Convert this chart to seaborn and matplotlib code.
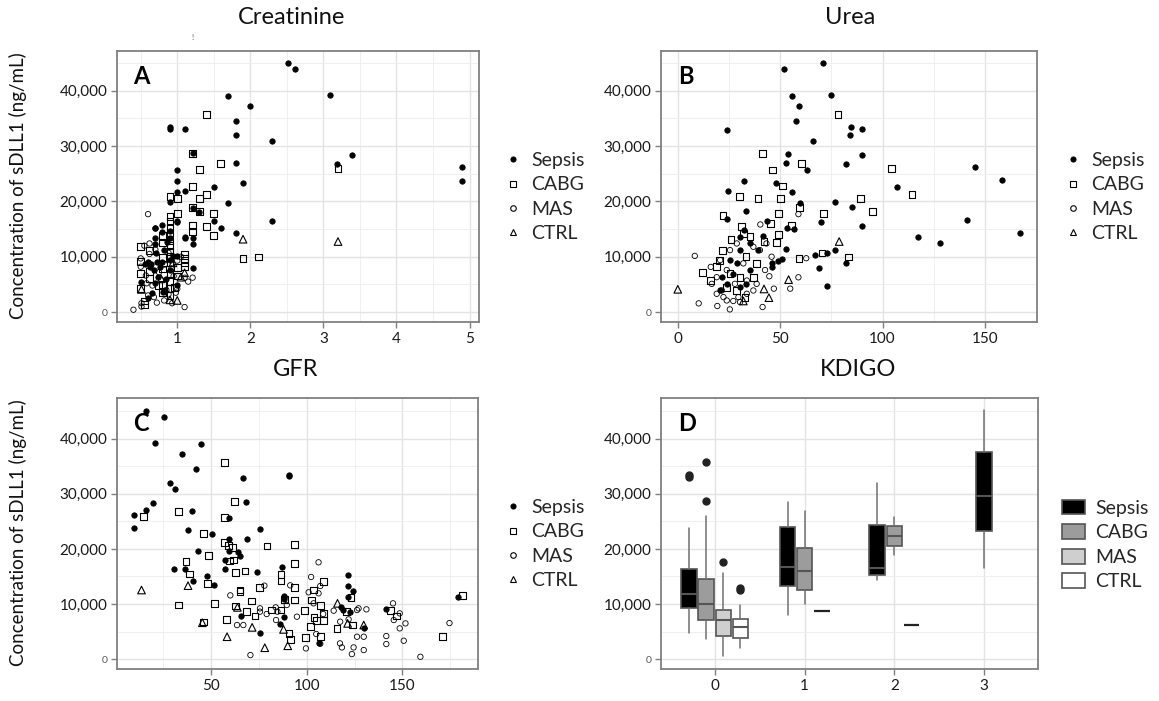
import numpy as np
import matplotlib
matplotlib.use("Agg")
import matplotlib.pyplot as plt
from matplotlib.lines import Line2D
from matplotlib.patches import Patch
from matplotlib.ticker import FixedLocator
import seaborn as sns

# ---------------- DATA ----------------
groups = ["Sepsis", "CABG", "MAS", "CTRL"]
y_ticks = [0, 10000, 20000, 30000, 40000]
y_tick_labels = ["0", "10,000", "20,000", "30,000", "40,000"]

# Panel A: Creatinine (x) vs sDLL1 (y)
creat_sepsis_x = [2.51, 2.61, 1.70, 2.00, 3.09, 1.80, 1.80, 2.29, 0.90, 0.90, 1.10, 1.21, 3.39, 3.19, 1.80,
                  1.00, 1.00, 1.90, 1.00, 1.10, 1.50, 0.90, 1.70, 1.21, 1.30, 1.00, 1.50, 2.29, 0.70, 1.60,
                  1.80, 1.10, 4.90, 4.90,
                  0.70, 0.79, 0.79, 0.70, 0.90, 0.90, 1.00, 0.70, 0.71, 0.60, 0.63, 0.68, 0.74, 0.70, 0.66,
                  0.50, 0.79, 0.90, 0.90, 1.00, 1.21, 1.21, 1.21, 1.10, 0.64, 0.72, 0.76, 0.82, 0.85, 0.94,
                  0.60, 0.80, 0.86, 0.99, 0.56]
creat_sepsis_y = [45015, 43930, 39090, 37220, 39270, 34620, 31960, 30880, 33530, 33110, 33110, 28700, 28460, 26770, 26950,
                  25680, 23750, 23380, 21750, 21930, 22660, 19880, 19640, 18850, 18130, 16310, 16500, 16500, 15230, 15230,
                  14320, 13530, 26160, 23750,
                  15240, 15720, 14520, 13320, 14620, 13420, 16450, 12220, 10600, 9100, 8200, 7600, 6400, 5200, 3400,
                  5500, 9100, 9400, 7600, 4900, 8000, 13420, 12220, 13420, 8600, 9000, 8100, 11200, 6000, 10200,
                  2600, 3700, 12600, 10100, 8700]
creat_cabg_x = [1.40, 1.59, 1.30, 1.21, 1.40, 1.30, 0.90, 1.00, 1.00, 1.50, 1.40, 1.50, 1.21, 1.90, 2.11, 3.20,
                1.21, 1.21, 1.30,
                0.90, 0.90, 0.90, 0.90, 0.90, 0.90, 0.90, 0.90, 0.90, 0.90, 0.90, 0.90, 0.90, 0.80, 0.80, 0.80,
                0.80, 0.80, 0.80, 0.50, 0.50, 0.50, 0.50, 0.62, 0.62, 0.62, 1.10, 1.10, 1.10, 1.10, 1.00, 1.00,
                0.74, 0.55, 0.55, 0.96, 1.21]
creat_cabg_y = [35710, 26890, 25740, 22720, 21210, 20480, 20900, 20480, 17890, 17890, 15410, 13780, 15710, 9670, 9970, 25920,
                28700, 18850, 18130,
                17300, 16300, 15300, 14300, 13000, 12000, 11000, 10000, 9000, 7000, 5500, 4300, 3000, 13800, 12500, 9800,
                7800, 5000, 3600, 11800, 9100, 7000, 4300, 11200, 7300, 6000, 10500, 9700, 9000, 8300, 6500, 8000,
                4800, 2000, 1300, 4500, 14600]
creat_mas_x = [0.60, 0.40, 0.51, 0.51, 1.10, 1.21, 0.50, 0.50, 0.55, 0.62, 0.57, 0.60, 0.68, 0.72, 0.82, 0.88,
               0.95, 1.00, 1.05, 1.10, 1.00, 0.85, 0.78, 0.66, 0.92, 0.70, 0.62, 0.88, 0.93, 1.15, 0.75, 0.58,
               0.98, 0.83]
creat_mas_y = [17700, 420, 1000, 1600, 900, 6220, 9700, 8200, 12000, 10500, 6600, 3000, 2700, 1700, 2100, 3200,
               6500, 9300, 10000, 6200, 4200, 4000, 5800, 4800, 7900, 11300, 12400, 10700, 1600, 5500, 7200, 5200,
               3500, 8600]
creat_ctrl_x = [1.90, 3.20, 1.00, 0.51, 0.90, 1.05, 0.78, 0.94, 1.10]
creat_ctrl_y = [13170, 12750, 2100, 4100, 2200, 6300, 6000, 8900, 7100]

# Panel B: Urea (x) vs sDLL1 (y)
urea_sepsis_x = [51.8, 70.9, 74.9, 55.9, 59.0, 57.9, 24.2, 84.8, 90.0, 83.9, 65.8, 90.0, 54.0, 52.8, 81.9, 62.9,
                 32.3, 47.8, 24.4, 55.9, 59.5, 77.0, 33.3, 85.0, 24.2, 69.9, 90.0, 106.8, 145.1, 158.1, 141.1,
                 117.2, 128.2, 167.2, 77.0, 72.8, 66.8, 81.9, 68.9, 73.0, 52.8, 51.1, 48.8, 46.2, 46.0, 53.1,
                 56.7, 43.4, 41.4, 30.4, 32.3, 35.3, 28.8, 25.5, 30.4, 21.5, 24.2, 35.3, 33.3, 27.1, 39.3, 30.4,
                 20.7]
urea_sepsis_y = [43930, 45010, 39270, 39090, 37220, 34620, 32930, 33470, 33110, 31960, 30880, 28460, 28640, 26950, 26770, 25680,
                 23750, 23380, 21930, 21690, 19700, 19880, 18190, 18910, 16740, 16310, 15590, 22660, 26220, 23810, 16560,
                 13530, 12450, 14260, 11300, 10690, 10390, 8940, 7980, 4770, 11480, 9610, 9180, 8160, 8940, 15230,
                 14980, 16500, 13720, 13600, 14900, 12400, 8800, 9400, 11200, 6300, 5100, 7600, 5100, 6900, 11200, 4500,
                 3900]
urea_cabg_x = [78.2, 41.3, 46.2, 60.3, 104.5, 30.1, 39.2, 50.2, 51.2, 114.4, 89.2, 95.2, 71.2, 59.3, 49.1, 22.1,
               31.0, 45.3, 55.6, 49.3, 48.1, 42.1, 83.2, 70.4, 59.2, 12.0, 20.2, 21.9, 26.0, 32.0, 35.3, 33.3,
               30.4, 36.9, 23.9, 25.5, 15.8, 28.8, 38.5, 32.8, 19.0]
urea_cabg_y = [35710, 28700, 25680, 26890, 25920, 20840, 20540, 20480, 22780, 21270, 20480, 18130, 17880, 18910, 17880, 17400,
               15410, 16010, 15650, 14080, 12570, 12750, 9970, 10690, 9670, 7190, 9370, 11180, 13110, 14200, 13600, 10000,
               6300, 6300, 4500, 6900, 5700, 3900, 8800, 2700, 8200]
urea_mas_x = [8.3, 10.2, 19.3, 25.4, 41.4, 46.9, 54.9, 58.9, 62.7, 40.3, 58.9, 44.7, 16.1, 16.6, 19.0, 22.3,
              23.9, 27.1, 29.6, 30.4, 33.7, 36.9, 38.5, 40.1, 36.9, 28.8, 25.5, 32.0, 23.9, 19.0, 43.3, 45.8,
              20.7, 33.7, 27.9, 42.6, 21.5]
urea_mas_y = [10150, 1570, 1090, 480, 910, 4230, 4230, 6280, 9730, 15830, 17700, 6470, 8160, 5100, 3300, 2700,
              2100, 2000, 2700, 1800, 3300, 3900, 5100, 11200, 11800, 12400, 11200, 8800, 7600, 6300, 12400, 10000,
              9400, 5700, 5100, 7600, 3900]
urea_ctrl_x = [0.0, 78.8, 54.1, 42.1, 44.5, 32.0]
urea_ctrl_y = [4110, 12750, 5860, 4170, 2600, 2000]

# Panel C: GFR (x) vs sDLL1 (y)
gfr_sepsis_x = [15.8, 25.4, 21.0, 44.8, 34.6, 42.1, 66.9, 91.0, 91.0, 28.5, 31.0, 68.3, 19.5, 15.8, 39.9, 9.7,
                9.7, 37.8, 59.4, 50.3, 75.8, 59.3, 69.0, 43.2, 59.3, 64.0, 64.9, 30.5, 36.6, 57.3, 57.3, 73.9,
                87.3, 40.4, 48.1, 51.4, 121.4, 121.4, 124.4, 121.4, 178.8, 88.2, 88.0, 65.7, 75.8, 141.3, 118.0,
                118.9, 122.4, 88.2, 88.4, 86.0, 106.4, 129.8]
gfr_sepsis_y = [45090, 43940, 39270, 39090, 37150, 34600, 32910, 33390, 33150, 32000, 30850, 28600, 28420, 27030, 26910, 26180,
                23760, 23390, 25570, 22660, 23700, 21760, 21880, 19630, 19700, 19510, 18730, 16420, 16420, 18060, 16300, 15760,
                16670, 14240, 15090, 13450, 15210, 13270, 12420, 11210, 11210, 11210, 7700, 7820, 4670, 9150, 9510,
                8910, 8480, 11500, 10970, 6300, 2970, 5580]
gfr_cabg_x = [57.0, 62.4, 33.2, 14.9, 57.0, 46.0, 79.3, 93.6, 57.0, 59.1, 61.3, 36.9, 48.6, 93.6, 61.7, 59.6,
              62.6, 67.8, 38.7, 48.3, 86.6, 86.6, 108.8, 103.6, 93.6, 75.3, 65.2, 65.2, 32.9, 51.7, 71.1, 73.0,
              68.7, 81.8, 86.6, 88.4, 93.6, 98.9, 102.4, 101.9, 107.1, 108.6, 105.1, 108.6, 107.1, 115.8, 121.0,
              123.1, 123.9, 99.2, 91.7, 90.8, 58.2, 46.3, 170.8, 181.2, 146.9, 143.7, 62.6, 103.8]
gfr_cabg_y = [35690, 28660, 26790, 25880, 25760, 22730, 20540, 20850, 21150, 20660, 20300, 17760, 18790, 17330, 18000, 17820,
              15760, 16000, 15450, 13760, 15390, 14180, 14120, 12540, 12970, 12970, 12540, 12240, 9820, 10120, 10540, 7820,
              8610, 8910, 8910, 10850, 10730, 8790, 10730, 5880, 9700, 8300, 6970, 6970, 4060, 5580, 8610,
              11150, 6180, 3880, 3580, 4670, 7150, 6730, 4060, 11510, 7820, 8790, 9640, 7580]
gfr_mas_x = [70.6, 106.2, 102.3, 91.4, 107.1, 106.2, 101.0, 60.1, 77.9, 75.6, 79.1, 75.6, 63.6, 66.9, 84.7, 83.8,
             89.6, 99.6, 107.1, 105.0, 108.6, 117.4, 118.4, 123.6, 124.5, 129.8, 127.1, 131.2, 129.8, 126.3, 117.5,
             121.9, 141.6, 141.6, 145.1, 148.6, 148.6, 150.7, 151.6, 145.5, 159.4, 174.6, 103.6, 114.1, 126.3,
             84.0, 94.9]
gfr_mas_y = [730, 17570, 14910, 13390, 13270, 11940, 12120, 11570, 13330, 9210, 8180, 8610, 6180, 6180, 8610, 9390,
             9820, 1940, 2790, 4550, 8180, 2850, 2120, 910, 2120, 1640, 9210, 9030, 4060, 4060, 6790,
             7210, 4180, 2730, 10120, 8300, 5580, 3330, 6480, 7090, 420, 6540, 10120, 8790, 8910,
             7090, 7700]
gfr_ctrl_x = [13.7, 38.0, 45.5, 58.4, 63.8, 71.5, 78.1, 90.1, 87.9, 116.1, 121.4, 129.8]
gfr_ctrl_y = [12540, 13330, 6600, 4060, 9390, 5760, 2060, 2420, 5390, 10120, 6480, 6180]

# Panel D: KDIGO box summaries
box_kdigo = [0, 0, 0, 0, 1, 1, 1, 2, 2, 2, 3]
box_group = ["Sepsis", "CABG", "MAS", "CTRL", "Sepsis", "CABG", "MAS", "Sepsis", "CABG", "MAS", "Sepsis"]
box_whislo = [4780, 3580, 490, 2000, 8000, 10000, 8670, 14360, 18960, 6240, 16540]
box_q1 = [9270, 7150, 4180, 3880, 13210, 12600, 8670, 15270, 20490, 6240, 23330]
box_med = [11870, 10060, 7090, 5880, 16730, 16000, 8670, 16540, 22360, 6240, 29690]
box_q3 = [16400, 14550, 8900, 7270, 23940, 20120, 8670, 24300, 24120, 6240, 37630]
box_whishi = [23800, 25900, 15690, 9870, 28600, 26960, 8670, 31940, 25820, 6240, 45140]
box_fliers = [[33100, 33500], [35750, 28780], [17580], [12900, 12500], [], [], [], [], [], [], []]
kdigo_ticks = [0, 1, 2, 3]

# ---------------- STYLE ----------------
sns.set_theme(style="whitegrid")
plt.rcParams["font.family"] = ["Lato", "DejaVu Sans"]

W, H = 1159, 701
fig = plt.figure(figsize=(W / 100, H / 100), dpi=100)
fig.patch.set_facecolor("white")


def rect(l, t, r, b):
    return [l / W, 1 - b / H, (r - l) / W, (b - t) / H]


def fx(px):
    return px / W


def fy(py):
    return 1 - py / H


axA = fig.add_axes(rect(117, 51, 479, 322))
axB = fig.add_axes(rect(661, 51, 1037, 322))
axC = fig.add_axes(rect(117, 398, 478, 669))
axD = fig.add_axes(rect(661, 398, 1038, 669))

GRID_MAJ = "#e3e3e3"
GRID_MIN = "#efefef"
SPINE = "#808080"

marker_spec = {
    "Sepsis": dict(marker="o", s=15, fc="black", ec="black", lw=0.6),
    "CABG": dict(marker="s", s=24, fc="none", ec="black", lw=0.8),
    "MAS": dict(marker="o", s=15, fc="none", ec="black", lw=0.6),
    "CTRL": dict(marker="^", s=30, fc="none", ec="black", lw=0.8),
}


def style_axes(ax, xlim, ylim, xmajor, xminor=None):
    ax.set_facecolor("white")
    ax.set_xlim(*xlim)
    ax.set_ylim(*ylim)
    ax.set_yticks(y_ticks)
    ax.set_yticklabels(y_tick_labels)
    ax.yaxis.set_minor_locator(FixedLocator([5000, 15000, 25000, 35000, 45000]))
    ax.xaxis.set_major_locator(FixedLocator(xmajor))
    if xminor is not None:
        ax.xaxis.set_minor_locator(FixedLocator(xminor))
    ax.grid(which="major", color=GRID_MAJ, linewidth=1.0)
    ax.grid(which="minor", color=GRID_MIN, linewidth=0.7)
    ax.set_axisbelow(True)
    for sp in ax.spines.values():
        sp.set_visible(True)
        sp.set_color(SPINE)
        sp.set_linewidth(1.3)
    ax.tick_params(which="major", direction="out", length=4, width=1, color=SPINE,
                   labelsize=11, labelcolor="#1a1a1a", pad=3, bottom=True, left=True)
    ax.tick_params(which="minor", length=0)
    lab0 = ax.get_yticklabels()[0]
    lab0.set_fontsize(7.5)
    lab0.set_color("#555555")
    ax.set_xlabel("")
    ax.set_ylabel("")


def scatter_panel(ax, data):
    for g in groups:
        xs, ys = data[g]
        spec = marker_spec[g]
        sns.scatterplot(x=xs, y=ys, ax=ax, marker=spec["marker"], s=spec["s"],
                        color="black", edgecolor=spec["ec"], linewidth=spec["lw"],
                        legend=False, zorder=3)
        coll = ax.collections[-1]
        if spec["fc"] == "none":
            coll.set_facecolor("none")
        coll.set_edgecolor("black")


scatter_panel(axA, {"Sepsis": (creat_sepsis_x, creat_sepsis_y), "CABG": (creat_cabg_x, creat_cabg_y),
                    "MAS": (creat_mas_x, creat_mas_y), "CTRL": (creat_ctrl_x, creat_ctrl_y)})
style_axes(axA, (0.175, 5.13), (-1800, 47200), [1, 2, 3, 4, 5], [0.5, 1.5, 2.5, 3.5, 4.5])
axA.set_xticklabels(["1", "2", "3", "4", "5"])

scatter_panel(axB, {"Sepsis": (urea_sepsis_x, urea_sepsis_y), "CABG": (urea_cabg_x, urea_cabg_y),
                    "MAS": (urea_mas_x, urea_mas_y), "CTRL": (urea_ctrl_x, urea_ctrl_y)})
style_axes(axB, (-8.2, 175.4), (-1800, 47200), [0, 50, 100, 150], [25, 75, 125])
axB.set_xticklabels(["0", "50", "100", "150"])

scatter_panel(axC, {"Sepsis": (gfr_sepsis_x, gfr_sepsis_y), "CABG": (gfr_cabg_x, gfr_cabg_y),
                    "MAS": (gfr_mas_x, gfr_mas_y), "CTRL": (gfr_ctrl_x, gfr_ctrl_y)})
style_axes(axC, (0.9, 189.5), (-1800, 47400), [50, 100, 150], [25, 75, 125, 175])
axC.set_xticklabels(["50", "100", "150"])

# Panel D boxplots
box_fill = {"Sepsis": "#000000", "CABG": "#9c9c9c", "MAS": "#cfcfcf", "CTRL": "#ffffff"}
EDGE = "#555555"
bw = 0.175
step = 0.19
for i in range(len(box_kdigo)):
    k = box_kdigo[i]
    present = [j for j in range(len(box_kdigo)) if box_kdigo[j] == k]
    n = len(present)
    idx = present.index(i)
    pos = k + (idx - (n - 1) / 2) * step
    stats = [dict(med=box_med[i], q1=box_q1[i], q3=box_q3[i], whislo=box_whislo[i],
                  whishi=box_whishi[i], fliers=box_fliers[i], label=box_group[i])]
    collapsed = box_q1[i] == box_q3[i]
    axD.bxp(stats, positions=[pos], widths=bw, patch_artist=True, showcaps=False,
            boxprops=dict(facecolor=box_fill[box_group[i]], edgecolor=EDGE, linewidth=1.2),
            medianprops=dict(color="#222222" if collapsed else EDGE, linewidth=1.6 if collapsed else 1.5),
            whiskerprops=dict(color="#707070", linewidth=1.1),
            flierprops=dict(marker="o", markersize=5, markerfacecolor="#222222",
                            markeredgecolor="#222222"),
            manage_ticks=False, zorder=3)
style_axes(axD, (-0.6, 3.6), (-1800, 47400), kdigo_ticks)
axD.set_xticklabels(["0", "1", "2", "3"])

# Panel letters
for ax, letter in [(axA, "A"), (axB, "B"), (axC, "C"), (axD, "D")]:
    ax.text(0.045, 0.905, letter, transform=ax.transAxes, fontsize=17, fontweight="bold",
            color="black", ha="left", va="center", zorder=5)

# Titles
fig.text(fx(292), fy(18), "Creatinine", fontsize=17, ha="center", va="center", color="#111111")
fig.text(fx(850), fy(18), "Urea", fontsize=17, ha="center", va="center", color="#111111")
fig.text(fx(296), fy(370), "GFR", fontsize=17, ha="center", va="center", color="#111111")
fig.text(fx(858), fy(369), "KDIGO", fontsize=17, ha="center", va="center", color="#111111")
fig.text(fx(192), fy(37), "!", fontsize=6, ha="center", va="center", color="#555555")

# Y labels
for yc in [186, 533]:
    fig.text(fx(18), fy(yc), "Concentration of sDLL1 (ng/mL)", rotation=90, fontsize=13.5,
             ha="center", va="center", color="#111111")

# Legends for scatter panels
leg_handles = []
leg_sizes = {"Sepsis": 3.6, "CABG": 4.2, "MAS": 4.0, "CTRL": 5.0}
for g in groups:
    spec = marker_spec[g]
    leg_handles.append(Line2D([], [], linestyle="none", marker=spec["marker"],
                              markersize=leg_sizes[g],
                              markerfacecolor="black" if spec["fc"] == "black" else "none",
                              markeredgecolor="black", markeredgewidth=0.8))

for ax, lx, ly in [(axA, 505, 197), (axB, 1065, 197), (axC, 505, 544)]:
    ax.legend(leg_handles, groups, loc="center left", bbox_to_anchor=(fx(lx), fy(ly)),
              bbox_transform=fig.transFigure, frameon=False, fontsize=14,
              handlelength=0.8, handletextpad=0.55, labelspacing=0.38, borderpad=0,
              borderaxespad=0)

box_handles = [Patch(facecolor=box_fill[g], edgecolor=EDGE, linewidth=1.2) for g in groups]
axD.legend(box_handles, groups, loc="center left", bbox_to_anchor=(fx(1062), fy(545)),
           bbox_transform=fig.transFigure, frameon=False, fontsize=14,
           handlelength=1.2, handleheight=0.8, handletextpad=0.5, labelspacing=0.38,
           borderpad=0, borderaxespad=0)

fig.savefig("out.png", dpi=100, facecolor="white")
